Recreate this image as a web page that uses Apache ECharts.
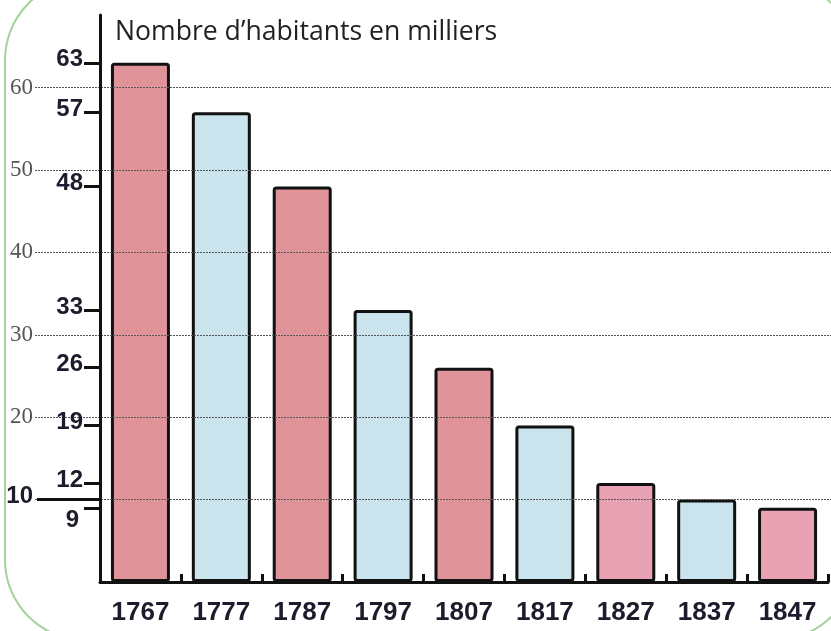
<!DOCTYPE html>
<html>
<head>
<meta charset="utf-8">
<script src="https://cdn.jsdelivr.net/npm/echarts@6/dist/echarts.min.js"></script>
<style>html,body{margin:0;padding:0;background:#fff;}#c{width:831px;height:631px;}</style>
</head>
<body>
<div id="c"></div>
<script>
const years = ['1767','1777','1787','1797','1807','1817','1827','1837','1847'];
const habitants = [63, 57, 48, 33, 26, 19, 12, 10, 9];
const gridTicks = [10, 20, 30, 40, 50, 60];
const titleText = 'Nombre d\u2019habitants en milliers';

const palette = { red: '#e0949a', blue: '#c9e4ed', pink: '#e8a2b3' };
const barColorKeys = ['red','blue','red','blue','red','blue','pink','blue','pink'];

const Y_MAX = 68.8;
const chart = echarts.init(document.getElementById('c'));
const markedValues = habitants.filter(v => gridTicks.indexOf(v) < 0);
const sharedOnGrid = habitants.filter(v => gridTicks.indexOf(v) >= 0);
const lowest = Math.min.apply(null, markedValues);

const boldFont = { fontFamily: 'Liberation Sans', fontWeight: 'bold', fontSize: 24, color: '#1c1c2c' };

chart.setOption({
  animation: false,
  backgroundColor: '#fff',
  title: {
    text: titleText, left: 110, top: 14,
    textStyle: { fontFamily: 'Open Sans', fontSize: 26.6, fontWeight: 'normal', color: '#222' }
  },
  graphic: [{
    type: 'rect', z: -10, silent: true,
    shape: { x: 5, y: -20, width: 850, height: 660, r: 80 },
    style: { fill: 'none', stroke: '#a3d29a', lineWidth: 2 }
  }],
  grid: [
    { left: 35, right: 0, top: 15, bottom: 49 },
    { left: 100, right: 3, top: 15, bottom: 49 },
    { left: 37, width: 63, top: 15, bottom: 49 }
  ],
  xAxis: [
    { gridIndex: 0, type: 'value', show: false, min: 0, max: 1 },
    {
      gridIndex: 1, type: 'category', data: years, boundaryGap: true,
      axisLine: { lineStyle: { color: '#111', width: 3 } },
      axisTick: { show: true, inside: true, length: 8, interval: 0, lineStyle: { color: '#111', width: 3 } },
      axisLabel: { interval: 0, margin: 18, fontFamily: 'Liberation Sans', fontWeight: 'bold', fontSize: 26, color: '#1c1c2c' }
    },
    { gridIndex: 2, type: 'value', show: false, min: 0, max: 1 }
  ],
  yAxis: [
    {
      gridIndex: 0, type: 'value', min: 0, max: Y_MAX, interval: 10, z: 5,
      axisLine: { show: false },
      splitLine: { show: true, showMinLine: false, showMaxLine: false, lineStyle: { color: '#555', width: 1, type: [2, 1] } },
      axisTick: { show: false },
      axisLabel: {
        customValues: gridTicks, margin: 2,
        formatter: v => sharedOnGrid.indexOf(v) >= 0 ? '{b|' + v + '}' : '{g|' + v + '}',
        rich: {
          g: { fontFamily: 'Liberation Serif', fontSize: 23, color: '#555' },
          b: Object.assign({}, boldFont, { padding: [0, 0, 6, 0] })
        }
      }
    },
    {
      gridIndex: 1, type: 'value', min: 0, max: Y_MAX, z: 6,
      axisLine: { show: true, lineStyle: { color: '#111', width: 3 } },
      splitLine: { show: false },
      axisTick: { show: true, length: 16, customValues: markedValues, lineStyle: { color: '#111', width: 3 } },
      axisLabel: {
        customValues: markedValues, margin: 17,
        formatter: v => v === lowest ? '{d|' + v + '}' : '{b|' + v + '}',
        rich: {
          b: Object.assign({}, boldFont, { padding: [0, 0, 6, 0] }),
          d: Object.assign({}, boldFont, { padding: [26, 4, 0, 0] })
        }
      }
    },
    {
      gridIndex: 2, type: 'value', min: 0, max: Y_MAX, z: 6,
      axisLine: { show: false },
      splitLine: { show: false },
      axisLabel: { show: false },
      axisTick: { show: true, inside: true, length: 63, customValues: sharedOnGrid, lineStyle: { color: '#111', width: 3 } }
    }
  ],
  series: [{
    type: 'bar', xAxisIndex: 1, yAxisIndex: 1, barWidth: 59, z: 2,
    data: habitants.map((v, i) => ({
      value: v,
      itemStyle: { color: palette[barColorKeys[i]] }
    })),
    itemStyle: { borderColor: '#111', borderWidth: 3, borderRadius: 2 }
  }]
});
</script>
</body>
</html>
